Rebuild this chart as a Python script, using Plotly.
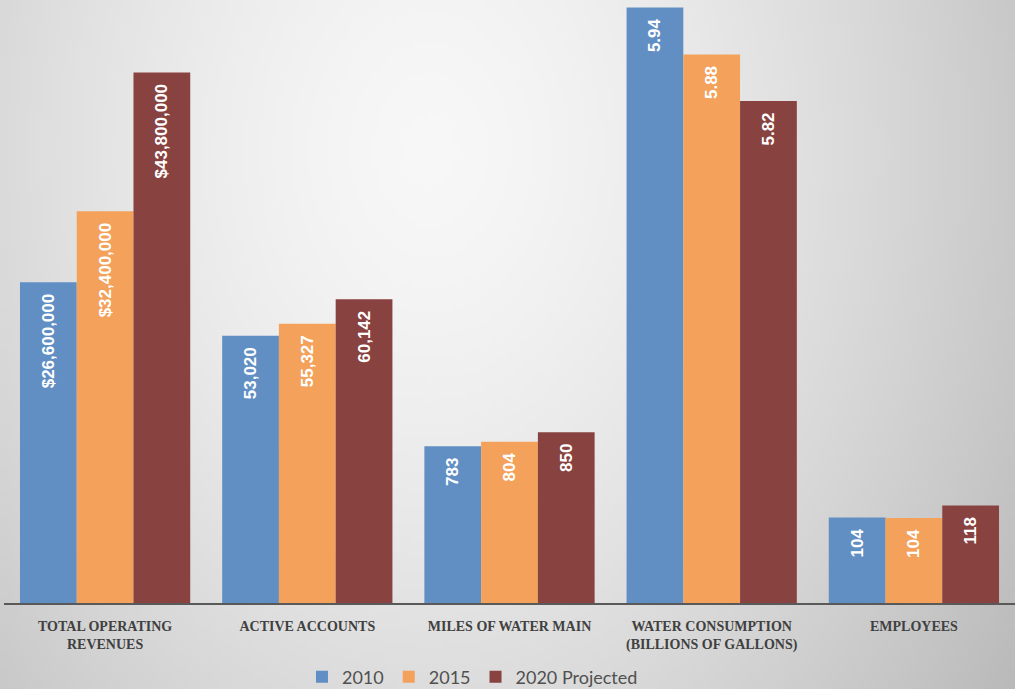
import base64
import struct
import zlib

import plotly.graph_objects as go

# ---------------- data ----------------
categories = [
    "TOTAL OPERATING<br>REVENUES",
    "ACTIVE ACCOUNTS",
    "MILES OF WATER MAIN",
    "WATER CONSUMPTION<br>(BILLIONS OF GALLONS)",
    "EMPLOYEES",
]
series_names = ["2010", "2015", "2020 Projected"]

# displayed bar heights (each category drawn on its own scale in the original)
height_2010 = [321, 267.5, 157, 596, 85.5]
height_2015 = [392, 279.5, 161.5, 549, 85]
height_2020 = [531, 304, 171, 502.5, 97.5]

label_2010 = ["$26,600,000", "53,020", "783", "5.94", "104"]
label_2015 = ["$32,400,000", "55,327", "804", "5.88", "104"]
label_2020 = ["$43,800,000", "60,142", "850", "5.82", "118"]

colors = ["#618fc4", "#f3a15b", "#88423f"]

# ---------------- background gradient (decoration) ----------------
W, H = 1015, 689


def gradient_png(w, h, step):
    gw, gh = w // step, h // step + 1
    rows = []
    for j in range(gh):
        py = (j + 0.5) * h / gh
        row = bytearray([0])
        for i in range(gw):
            px = (i + 0.5) * w / gw
            dx = (px - 430) / 600.0
            dy = (py - 150) / 800.0
            d = (dx * dx + dy * dy) ** 0.5
            v = 247 - 48 * d ** 1.5
            v = max(0, min(255, int(round(v))))
            row.append(v)
        rows.append(bytes(row))
    raw = b"".join(rows)

    def chunk(tag, data):
        c = struct.pack(">I", len(data)) + tag + data
        return c + struct.pack(">I", zlib.crc32(tag + data) & 0xFFFFFFFF)

    png = b"\x89PNG\r\n\x1a\n"
    png += chunk(b"IHDR", struct.pack(">IIBBBBB", gw, gh, 8, 0, 0, 0, 0))
    png += chunk(b"IDAT", zlib.compress(raw, 9))
    png += chunk(b"IEND", b"")
    return "data:image/png;base64," + base64.b64encode(png).decode()


bg_src = gradient_png(W, H, 5)

# ---------------- figure ----------------
ML, MR, MT, MB = 4, 0, 0, 86
plot_w = W - ML - MR
plot_h = H - MT - MB

fig = go.Figure()
for name, hts, labels, col in zip(
    series_names,
    [height_2010, height_2015, height_2020],
    [label_2010, label_2015, label_2020],
    colors,
):
    fig.add_trace(
        go.Bar(
            name=name,
            x=categories,
            y=hts,
            text=labels,
            texttemplate="%{text}\u2002",
            textposition="inside",
            insidetextanchor="end",
            textangle=-90,
            constraintext="none",
            textfont=dict(family="Liberation Sans, Arial, sans-serif", size=17,
                          color="white", weight="bold"),
            marker=dict(color=col, line=dict(width=0)),
            hoverinfo="skip",
        )
    )

fig.update_layout(
    width=W,
    height=H,
    margin=dict(l=ML, r=MR, t=MT, b=MB, autoexpand=False),
    barmode="group",
    bargap=0.158,
    bargroupgap=0,
    paper_bgcolor="#dedede",
    plot_bgcolor="rgba(0,0,0,0)",
    showlegend=True,
    legend=dict(
        orientation="h",
        xref="container",
        yref="container",
        x=0.4655,
        y=1 - 677 / H,
        xanchor="center",
        yanchor="middle",
        font=dict(family="Lato, Open Sans, sans-serif", size=18, color="#505050"),
        bgcolor="rgba(0,0,0,0)",
        traceorder="normal",
    ),
    xaxis=dict(
        type="category",
        showline=True,
        linecolor="#595959",
        linewidth=1.5,
        ticks="",
        ticklabelstandoff=9,
        showgrid=False,
        zeroline=False,
        tickfont=dict(family="Liberation Serif, Times New Roman, serif", size=14,
                      color="#404040", weight="bold"),
        fixedrange=True,
    ),
    yaxis=dict(
        visible=False,
        range=[0, 603.5],
        showgrid=False,
        zeroline=False,
        fixedrange=True,
    ),
    images=[
        dict(
            source=bg_src,
            xref="paper",
            yref="paper",
            x=-ML / plot_w,
            y=1 + MT / plot_h,
            sizex=W / plot_w,
            sizey=H / plot_h,
            xanchor="left",
            yanchor="top",
            sizing="stretch",
            layer="below",
        )
    ],
)

fig.write_html("out.html")
